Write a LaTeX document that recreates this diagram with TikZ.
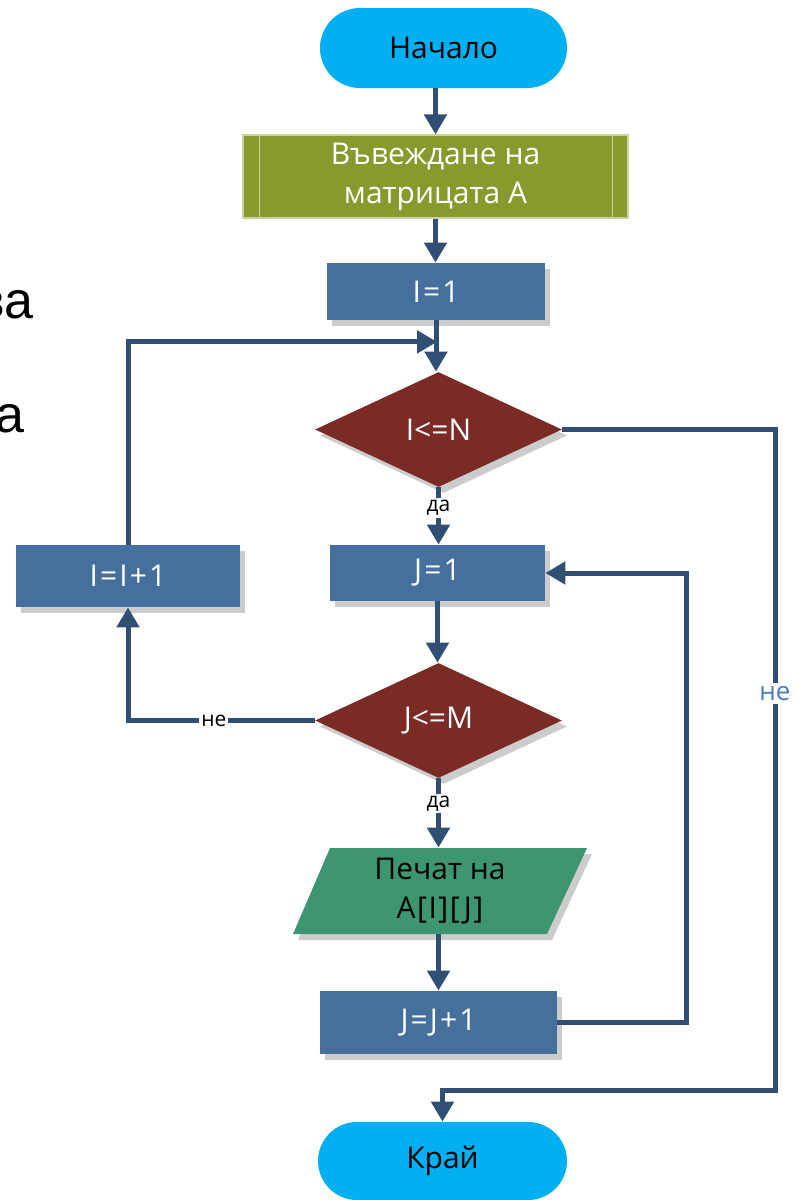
\documentclass[tikz,border=0pt]{standalone}
\usepackage{fontspec}
\setmainfont{Open Sans}
\newfontfamily\arialfont{Liberation Sans}
\newfontfamily\wideA[LetterSpace=7]{Open Sans}
\newfontfamily\wideB[LetterSpace=5]{Open Sans}
\usetikzlibrary{shapes.geometric,shadows,arrows.meta,calc}

\definecolor{termcol}{RGB}{0,176,240}
\definecolor{inputcol}{RGB}{134,154,45}
\definecolor{proccol}{RGB}{69,112,157}
\definecolor{deccol}{RGB}{122,43,37}
\definecolor{printcol}{RGB}{61,150,112}
\definecolor{linecol}{RGB}{47,80,116}
\definecolor{nolbl}{RGB}{74,126,187}

\begin{document}
\begin{tikzpicture}[x=0.5pt,y=-0.5pt,
  sz/.style 2 args={minimum width=#1*0.5pt, minimum height=#2*0.5pt, inner sep=0pt},
  boxfont/.style={font=\fontsize{15}{19.5}\selectfont},
  shade/.style={drop shadow={shadow xshift=2.5pt, shadow yshift=-3pt, fill=black, opacity=0.2}},
  term/.style={rectangle, fill=termcol, text=black, boxfont},
  inputbox/.style={rectangle, fill=inputcol, draw=inputcol!45!white, line width=0.6pt, text=white, boxfont, align=center},
  proc/.style={rectangle, fill=proccol, text=white, font=\wideA\fontsize{15}{19.5}\selectfont, shade},
  dec/.style={diamond, fill=deccol, text=white, boxfont, shade},
  arr/.style={draw=linecol, line width=2.5pt, -{Triangle[width=11pt,length=10pt]}},
  lbl/.style={fill=white, text=black, inner sep=1pt, font=\fontsize{10.5}{12}\selectfont},
  lblno/.style={fill=white, text=nolbl, inner sep=1.5pt, font=\fontsize{13}{15}\selectfont}
]
\useasboundingbox (0,0) rectangle (804,1200);

% fragments of a larger heading cut by the left edge
\node[anchor=base east, inner sep=0pt, font=\arialfont\fontsize{26}{30}\selectfont] (frag1) at (34,318) {ва};
\node[anchor=base east, inner sep=0pt, font=\arialfont\fontsize{26}{30}\selectfont] (frag2) at (25,432) {а};

% blocks
\node[term, sz={247}{80}, rounded corners=20pt] (start) at (443.5,48) {Начало};
\node[inputbox, sz={385}{83}] (inp) at (435.5,176.5) {Въвеждане на\\матрицата А};
\draw[inputcol!45!white, line width=0.6pt]
  ([xshift=8.5pt]inp.north west) -- ([xshift=8.5pt]inp.south west)
  ([xshift=-8pt]inp.north east) -- ([xshift=-8pt]inp.south east);
\node[proc, sz={218}{57}] (i1) at (436,291.5) {I=1};
\node[dec, sz={247}{115}] (d1) at (438.5,429.5) {I<=N};
\node[proc, sz={215}{56}] (j1) at (437.5,573) {J=1};
\node[proc, sz={224}{62}] (ii) at (128,576) {I=I+1};
\node[dec, sz={247}{115}] (d2) at (438.5,720.5) {J<=M};
\fill[printcol, shade] (330,848) -- (587,848) -- (547,934) -- (293,934) -- cycle;
\node[sz={254}{86}, boxfont, align=center, text=black] (pr) at (440,891) {Печат на\\{\wideB A[I][J]}};
\node[proc, sz={237}{63}] (jj) at (438.5,1022.5) {J=J+1};
\node[term, sz={249}{78}, rounded corners=19.5pt] (end) at (442.5,1161) {Край};

% turning points of the loops
\coordinate (m1) at ($(i1.south)!0.42!(d1.north)$);
\coordinate (c1) at (775,1090);
\coordinate (c2) at (686,1022.5);

% connectors
\draw[arr] (start.south -| inp.north) -- (inp.north);
\draw[arr] (inp.south) -- (inp.south |- i1.north);
\draw[arr] (i1.south) -- (i1.south |- d1.north);
\draw[arr] (ii.north) |- (m1);
\draw[arr] (d1.south) -- node[lbl, pos=0.36]{да} (d1.south |- j1.north);
\draw[arr] (d1.east) -| node[lblno, pos=0.70]{не} (c1) -| (end.north);
\draw[arr] (j1.south) -- (j1.south |- d2.north);
\draw[arr] (d2.west) -| node[lbl, pos=0.27]{не} (ii.south);
\draw[arr] (d2.south) -- node[lbl, pos=0.36]{да} (d2.south |- pr.north);
\draw[arr] (pr.south -| d2.south) -- (d2.south |- jj.north);
\draw[arr] (jj.east) -- (c2) |- (j1.east);
\end{tikzpicture}
\end{document}
